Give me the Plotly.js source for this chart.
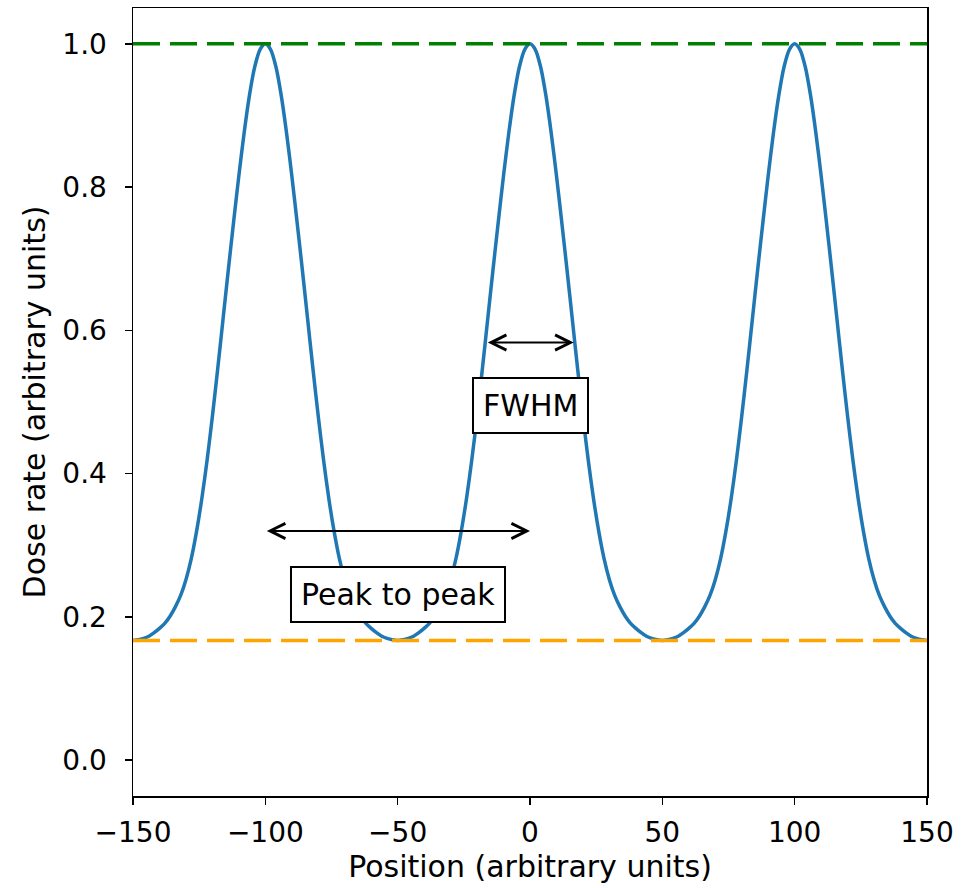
<!DOCTYPE html>
<html>
<head>
<meta charset="utf-8">
<script src="https://cdn.plot.ly/plotly-3.0.1.min.js"></script>
<style>
html, body { margin: 0; padding: 0; background: #ffffff; }
#chart { width: 977px; height: 888px; }
</style>
</head>
<body>
<div id="chart"></div>
<script>
// Position (arbitrary units)
const positions = [-150,-148,-146,-144,-142,-140,-138,-136,-134,-132,-130,-128,-126,-124,-122,-120,-118,-116,-114,-112,-110,-108,-106,-104,-102,
  -100,-98,-96,-94,-92,-90,-88,-86,-84,-82,-80,-78,-76,-74,-72,-70,-68,-66,-64,-62,-60,-58,-56,-54,-52,
  -50,-48,-46,-44,-42,-40,-38,-36,-34,-32,-30,-28,-26,-24,-22,-20,-18,-16,-14,-12,-10,-8,-6,-4,-2,
  0,2,4,6,8,10,12,14,16,18,20,22,24,26,28,30,32,34,36,38,40,42,44,46,48,
  50,52,54,56,58,60,62,64,66,68,70,72,74,76,78,80,82,84,86,88,90,92,94,96,98,
  100,102,104,106,108,110,112,114,116,118,120,122,124,126,128,130,132,134,136,138,140,142,144,146,148,
  150];

// Dose rate (arbitrary units)
const doseRate = [0.167,0.168,0.170,0.173,0.178,0.184,0.191,0.201,0.214,0.230,0.252,0.281,0.319,0.365,0.419,0.480,0.546,0.615,0.684,0.751,0.816,0.876,0.928,0.968,0.992,
  1.000,0.992,0.968,0.928,0.876,0.816,0.751,0.684,0.615,0.546,0.480,0.419,0.365,0.319,0.281,0.252,0.230,0.214,0.201,0.191,0.184,0.178,0.173,0.170,0.168,
  0.167,0.168,0.170,0.173,0.178,0.184,0.191,0.201,0.214,0.230,0.252,0.281,0.319,0.365,0.419,0.480,0.546,0.615,0.684,0.751,0.816,0.876,0.928,0.968,0.992,
  1.000,0.992,0.968,0.928,0.876,0.816,0.751,0.684,0.615,0.546,0.480,0.419,0.365,0.319,0.281,0.252,0.230,0.214,0.201,0.191,0.184,0.178,0.173,0.170,0.168,
  0.167,0.168,0.170,0.173,0.178,0.184,0.191,0.201,0.214,0.230,0.252,0.281,0.319,0.365,0.419,0.480,0.546,0.615,0.684,0.751,0.816,0.876,0.928,0.968,0.992,
  1.000,0.992,0.968,0.928,0.876,0.816,0.751,0.684,0.615,0.546,0.480,0.419,0.365,0.319,0.281,0.252,0.230,0.214,0.201,0.191,0.184,0.178,0.173,0.170,0.168,
  0.167];

// Reference levels
const levelX = [-150, 150];
const maxLevel = [1.0, 1.0];
const minLevel = [0.167, 0.167];

// Annotation arrows and labels
const fwhmArrowX = [-16.5, 16.5];
const fwhmArrowY = 0.583;
const fwhmLabel = {text: 'FWHM', x: 0, y: 0.495};
const p2pArrowX = [-100, 0];
const p2pArrowY = 0.32;
const p2pLabel = {text: 'Peak to peak', x: -50, y: 0.2315};

const xTicks = [-150, -100, -50, 0, 50, 100, 150];
const yTicks = [0.0, 0.2, 0.4, 0.6, 0.8, 1.0];

const FONT = 'DejaVu Sans, sans-serif';

const traces = [
  {x: positions, y: doseRate, type: 'scatter', mode: 'lines',
   line: {color: '#1f77b4', width: 3.5, shape: 'spline', smoothing: 0.8, simplify: false}, hoverinfo: 'skip'},
  {x: levelX, y: maxLevel, type: 'scatter', mode: 'lines',
   line: {color: '#008000', width: 3.5, dash: '27px,10px'}},
  {x: levelX, y: minLevel, type: 'scatter', mode: 'lines',
   line: {color: '#ffa500', width: 3.5, dash: '27px,10px'}}
];

function arrow(xs, y) {
  return {x: xs[1], y: y, ax: xs[0], ay: y, xref: 'x', yref: 'y', axref: 'x', ayref: 'y',
    text: '', showarrow: true, arrowside: 'end+start', arrowhead: 5, startarrowhead: 5,
    arrowsize: 1.5, startarrowsize: 1.5, arrowwidth: 2, arrowcolor: '#000000', standoff: 0, startstandoff: 0};
}
function label(l) {
  return {x: l.x, y: l.y, xref: 'x', yref: 'y', text: l.text, showarrow: false,
    font: {family: FONT, size: 30, color: '#000000'}, bgcolor: '#ffffff',
    bordercolor: '#000000', borderwidth: 2, borderpad: 9};
}

const layout = {
  width: 977, height: 888,
  margin: {l: 133, r: 50, t: 8, b: 92},
  paper_bgcolor: '#ffffff', plot_bgcolor: '#ffffff',
  showlegend: false,
  font: {family: FONT, size: 28, color: '#000000'},
  xaxis: {
    range: [-150, 150], tickvals: xTicks, ticktext: xTicks.map(v => v < 0 ? '\u2212' + Math.abs(v) : String(v)),
    ticks: 'outside', ticklen: 7, tickwidth: 1.5, tickcolor: '#000000',
    showline: true, linecolor: '#000000', linewidth: 1.5, mirror: true,
    showgrid: false, zeroline: false, ticklabelstandoff: 4,
    tickfont: {family: FONT, size: 28, color: '#000000'},
    title: {text: 'Position (arbitrary units)', font: {family: FONT, size: 30, color: '#000000'}, standoff: 8}
  },
  yaxis: {
    range: [-0.05, 1.05], tickvals: yTicks, ticktext: yTicks.map(v => v.toFixed(1)),
    ticks: 'outside', ticklen: 7, tickwidth: 1.5, tickcolor: '#000000',
    showline: true, linecolor: '#000000', linewidth: 1.5, mirror: true,
    showgrid: false, zeroline: false, ticklabelstandoff: 12,
    tickfont: {family: FONT, size: 28, color: '#000000'},
    title: {text: 'Dose rate (arbitrary units)', font: {family: FONT, size: 30, color: '#000000'}, standoff: 8}
  },
  annotations: [arrow(fwhmArrowX, fwhmArrowY), label(fwhmLabel), arrow(p2pArrowX, p2pArrowY), label(p2pLabel)]
};

Plotly.newPlot('chart', traces, layout, {displayModeBar: false, staticPlot: true});
</script>
</body>
</html>
